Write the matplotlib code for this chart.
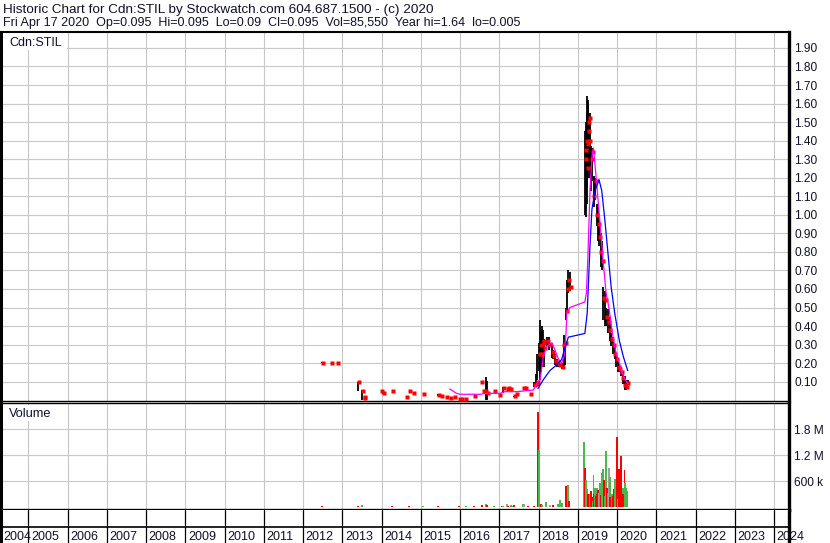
import matplotlib
matplotlib.use("Agg")
import matplotlib.pyplot as plt
from matplotlib.patches import Rectangle

plt.rcParams['font.family'] = ['Liberation Sans', 'DejaVu Sans']

W, H = 830, 543

header1 = "Historic Chart for Cdn:STIL by Stockwatch.com 604.687.1500 - (c) 2020"
header2 = "Fri Apr 17 2020  Op=0.095  Hi=0.095  Lo=0.09  Cl=0.095  Vol=85,550  Year hi=1.64  lo=0.005"
symbol = "Cdn:STIL"
vol_title = "Volume"

year_labels = [str(y) for y in range(2004, 2025)]
price_ticks = [0.10, 0.20, 0.30, 0.40, 0.50, 0.60, 0.70, 0.80, 0.90, 1.00,
               1.10, 1.20, 1.30, 1.40, 1.50, 1.60, 1.70, 1.80, 1.90]
price_tick_labels = ["0.10", "0.20", "0.30", "0.40", "0.50", "0.60", "0.70", "0.80", "0.90", "1.00",
                     "1.10", "1.20", "1.30", "1.40", "1.50", "1.60", "1.70", "1.80", "1.90"]
vol_ticks = [600000, 1200000, 1800000]
vol_tick_labels = ["600 k", "1.2 M", "1.8 M"]

# daily bars (decimal year, high, low, close)
bar_dates = [2012.48, 2012.73, 2012.86, 2013.40, 2013.50, 2013.55, 2013.57, 2013.98, 2014.04, 2014.26,
             2014.64, 2014.70, 2014.80, 2015.05, 2015.44, 2015.53, 2015.64, 2015.74, 2015.85, 2015.97,
             2016.04, 2016.14, 2016.36, 2016.55, 2016.58, 2016.65, 2016.69, 2016.87, 2016.99, 2017.10,
             2017.19, 2017.23, 2017.29, 2017.37, 2017.44, 2017.62, 2017.66, 2017.78, 2017.89, 2017.93,
             2017.97, 2018.01, 2018.04, 2018.06, 2018.08, 2018.11, 2018.13, 2018.15, 2018.22, 2018.26,
             2018.34, 2018.38, 2018.43, 2018.47, 2018.53, 2018.60, 2018.64, 2018.68, 2018.71, 2018.73,
             2018.76, 2018.80, 2019.19, 2019.20, 2019.215, 2019.23, 2019.24, 2019.255, 2019.27, 2019.285,
             2019.30, 2019.33, 2019.36, 2019.40, 2019.44, 2019.48, 2019.52, 2019.55, 2019.58, 2019.61,
             2019.65, 2019.69, 2019.73, 2019.77, 2019.81, 2019.85, 2019.90, 2019.94, 2019.98, 2020.02,
             2020.06, 2020.10, 2020.14, 2020.19, 2020.23, 2020.27]
bar_highs = [0.205, 0.20, 0.20, 0.10, 0.055, 0.017, 0.01, 0.05, 0.045, 0.05,
             0.017, 0.05, 0.04, 0.035, 0.035, 0.02, 0.017, 0.01, 0.015, 0.007,
             0.007, 0.007, 0.02, 0.10, 0.05, 0.124, 0.105, 0.05, 0.03, 0.07,
             0.06, 0.065, 0.06, 0.025, 0.04, 0.065, 0.065, 0.033, 0.10, 0.14,
             0.25, 0.31, 0.43, 0.38, 0.40, 0.38, 0.33, 0.31, 0.34, 0.34,
             0.31, 0.27, 0.25, 0.22, 0.20, 0.20, 0.35, 0.32, 0.50, 0.65,
             0.70, 0.69, 1.45, 1.40, 1.50, 1.55, 1.64, 1.62, 1.59, 1.50,
             1.55, 1.37, 1.36, 1.21, 1.20, 1.06, 1.04, 0.97, 0.90, 0.86,
             0.61, 0.59, 0.50, 0.49, 0.45, 0.36, 0.34, 0.29, 0.25, 0.22,
             0.20, 0.18, 0.16, 0.13, 0.11, 0.11]
bar_lows = [0.20, 0.20, 0.20, 0.05, 0.0, 0.017, 0.01, 0.05, 0.035, 0.05,
            0.017, 0.05, 0.04, 0.035, 0.025, 0.02, 0.017, 0.01, 0.015, 0.007,
            0.007, 0.007, 0.02, 0.10, 0.05, 0.0, 0.0, 0.05, 0.03, 0.04,
            0.06, 0.065, 0.06, 0.015, 0.03, 0.065, 0.065, 0.033, 0.07, 0.09,
            0.11, 0.16, 0.11, 0.15, 0.18, 0.20, 0.22, 0.18, 0.29, 0.27,
            0.23, 0.22, 0.19, 0.18, 0.18, 0.17, 0.18, 0.19, 0.43, 0.47,
            0.58, 0.59, 1.00, 0.99, 1.10, 1.06, 1.15, 1.20, 1.26, 1.25,
            1.20, 1.13, 1.18, 1.04, 1.08, 0.94, 0.86, 0.83, 0.72, 0.70,
            0.43, 0.40, 0.40, 0.36, 0.32, 0.29, 0.25, 0.22, 0.18, 0.15,
            0.15, 0.13, 0.09, 0.055, 0.055, 0.08]
bar_closes = [0.20, 0.20, 0.20, 0.10, 0.05, 0.017, 0.01, 0.05, 0.04, 0.05,
              0.017, 0.05, 0.04, 0.035, 0.03, 0.02, 0.017, 0.01, 0.015, 0.007,
              0.007, 0.007, 0.02, 0.10, 0.05, 0.05, 0.04, 0.05, 0.03, 0.065,
              0.06, 0.065, 0.06, 0.02, 0.035, 0.065, 0.065, 0.033, 0.08, 0.09,
              0.10, 0.25, 0.30, 0.25, 0.25, 0.32, 0.31, 0.28, 0.32, 0.30,
              0.26, 0.24, 0.21, 0.20, 0.19, 0.18, 0.30, 0.31, 0.48, 0.60,
              0.65, 0.61, 1.35, 1.30, 1.40, 1.38, 1.25, 1.45, 1.50, 1.40,
              1.52, 1.30, 1.34, 1.10, 1.18, 1.00, 0.95, 0.88, 0.80, 0.75,
              0.55, 0.54, 0.45, 0.42, 0.38, 0.33, 0.30, 0.25, 0.22, 0.18,
              0.17, 0.15, 0.12, 0.08, 0.07, 0.095]

# moving averages
ma_short_dates = [2015.74, 2015.91, 2016.00, 2016.51, 2016.68, 2017.02, 2017.14, 2017.44, 2017.87, 2017.91,
                  2017.99, 2018.04, 2018.12, 2018.21, 2018.34, 2018.42, 2018.51, 2018.59, 2018.65, 2018.70,
                  2018.72, 2018.80, 2019.18, 2019.22, 2019.26, 2019.31, 2019.36, 2019.40, 2019.48, 2019.56,
                  2019.65, 2019.72, 2019.80, 2019.88, 2019.98, 2020.06, 2020.16, 2020.27]
ma_short_values = [0.06, 0.037, 0.032, 0.032, 0.037, 0.037, 0.046, 0.046, 0.055, 0.073,
                   0.10, 0.11, 0.235, 0.29, 0.31, 0.27, 0.22, 0.20, 0.235, 0.36,
                   0.47, 0.50, 0.53, 0.58, 0.79, 1.13, 1.31, 1.36, 1.17, 0.97,
                   0.74, 0.58, 0.49, 0.36, 0.25, 0.20, 0.13, 0.09]
ma_long_dates = [2017.99, 2018.12, 2018.29, 2018.46, 2018.59, 2018.68, 2018.76, 2019.18, 2019.24, 2019.31,
                 2019.36, 2019.44, 2019.54, 2019.61, 2019.69, 2019.77, 2019.85, 2019.94, 2020.06, 2020.16,
                 2020.27]
ma_long_values = [0.064, 0.11, 0.16, 0.19, 0.22, 0.29, 0.34, 0.36, 0.47, 0.83,
                  1.03, 1.13, 1.19, 1.13, 0.97, 0.79, 0.61, 0.47, 0.32, 0.235,
                  0.16]

# volume (decimal year, shares, direction u/d/f)
vol_dates = [2012.48, 2013.40, 2013.50, 2014.26, 2014.70, 2015.05, 2015.44, 2015.97, 2016.14, 2016.36,
             2016.55, 2016.65, 2016.69, 2016.87, 2017.06, 2017.10, 2017.19, 2017.23, 2017.29, 2017.33,
             2017.37, 2017.61, 2017.63, 2017.72, 2017.89, 2017.99, 2018.02, 2018.06, 2018.10, 2018.19,
             2018.29, 2018.36, 2018.50, 2018.55, 2018.59, 2018.69, 2018.74, 2018.77, 2019.16, 2019.18,
             2019.21, 2019.24, 2019.27, 2019.30, 2019.32, 2019.34, 2019.36, 2019.38, 2019.40, 2019.42,
             2019.44, 2019.46, 2019.48, 2019.49, 2019.51, 2019.52, 2019.54, 2019.56, 2019.58, 2019.61,
             2019.63, 2019.65, 2019.67, 2019.69, 2019.72, 2019.75, 2019.77, 2019.80, 2019.81, 2019.83,
             2019.85, 2019.87, 2019.89, 2019.91, 2019.94, 2019.96, 2020.00, 2020.02, 2020.05, 2020.08,
             2020.11, 2020.14, 2020.16, 2020.19, 2020.21, 2020.23, 2020.26]
vol_values = [20000, 30000, 50000, 20000, 20000, 20000, 30000, 20000, 20000, 30000,
              40000, 80000, 50000, 30000, 20000, 30000, 70000, 30000, 40000, 30000,
              50000, 70000, 70000, 20000, 20000, 2190000, 1320000, 80000, 40000, 120000,
              50000, 50000, 70000, 160000, 90000, 480000, 510000, 130000, 1500000, 890000,
              620000, 420000, 290000, 280000, 310000, 380000, 230000, 150000, 740000, 300000,
              450000, 250000, 450000, 300000, 200000, 390000, 330000, 550000, 280000, 790000,
              450000, 880000, 620000, 250000, 1290000, 430000, 320000, 890000, 700000, 220000,
              160000, 300000, 250000, 410000, 390000, 650000, 1620000, 180000, 880000, 790000,
              1180000, 450000, 300000, 850000, 550000, 450000, 380000]
vol_dirs = ["d", "d", "u", "d", "d", "u", "d", "d", "u", "d",
            "d", "u", "d", "u", "d", "u", "f", "d", "u", "u",
            "d", "u", "f", "d", "d", "d", "u", "d", "u", "u",
            "f", "d", "u", "u", "u", "d", "u", "d", "u", "d",
            "u", "u", "d", "d", "u", "d", "d", "u", "u", "d",
            "u", "d", "u", "d", "u", "d", "f", "u", "d", "u",
            "d", "u", "d", "u", "u", "d", "u", "f", "u", "d",
            "d", "u", "d", "d", "u", "u", "d", "f", "d", "d",
            "d", "u", "d", "d", "u", "u", "u"]
dir_colors = {"u": "#4cb84c", "d": "#ff0000", "f": "#a0a0a0"}


def px_rect(left, top, width, height):
    return [left / W, 1 - (top + height) / H, width / W, height / H]


X0_PX, X_PER_YEAR = 28.3, 39.25


def px_to_year(x):
    return 2005 + (x - X0_PX) / X_PER_YEAR


xmin, xmax = px_to_year(1), px_to_year(789)

fig = plt.figure(figsize=(W / 100, H / 100), dpi=100)
fig.patch.set_facecolor("white")

grid_c = "#c8c8c8"
text_c = "#10102a"
boundaries = [int(y) for y in year_labels[1:]]

# ---- price panel
ax_p = fig.add_axes(px_rect(1, 32, 788, 369))
ax_p.set_xlim(xmin, xmax)
ax_p.set_ylim((400.2 - 401) / 185.4, (400.2 - 32) / 185.4)
for yv in price_ticks:
    ax_p.axhline(yv, color=grid_c, lw=0.8, zorder=0)
for b in boundaries:
    ax_p.axvline(b, color=grid_c, lw=0.8, zorder=0)
ax_p.vlines(bar_dates, bar_lows, bar_highs, color="black", lw=1.3, zorder=3)
ax_p.plot([d + 0.02 for d in bar_dates], bar_closes, "s", ms=2.2, color="#ff0000", mec="none", zorder=4)
ax_p.plot(ma_short_dates, ma_short_values, color="#ff00ff", lw=0.9, zorder=5)
ax_p.plot(ma_long_dates, ma_long_values, color="#0000ff", lw=0.9, zorder=5)
ax_p.set_xticks([])
ax_p.yaxis.tick_right()
ax_p.set_yticks(price_ticks)
ax_p.set_yticklabels(price_tick_labels, fontsize=8.6, color=text_c)
ax_p.tick_params(axis="y", length=0, pad=3.6)
for side, lw in (("left", 2.2), ("top", 1.5), ("bottom", 1.0), ("right", 2.4)):
    ax_p.spines[side].set_linewidth(lw)
    ax_p.spines[side].set_color("black")

# ---- volume panel
ax_v = fig.add_axes(px_rect(1, 403, 788, 107))
ax_v.set_xlim(xmin, xmax)
per_px = 600000 / 26.0
ax_v.set_ylim(-3 * per_px, 104 * per_px)
for yv in vol_ticks:
    ax_v.axhline(yv, color=grid_c, lw=0.8, zorder=0)
for b in boundaries:
    ax_v.axvline(b, color=grid_c, lw=0.8, zorder=0)
ax_v.bar(vol_dates, vol_values, width=0.05, bottom=0,
         color=[dir_colors[d] for d in vol_dirs], linewidth=0, zorder=3)
ax_v.set_xticks([])
ax_v.yaxis.tick_right()
ax_v.set_yticks(vol_ticks)
ax_v.set_yticklabels(vol_tick_labels, fontsize=8.6, color=text_c)
ax_v.tick_params(axis="y", length=0, pad=3.6)
for side, lw in (("left", 2.2), ("top", 1.0), ("bottom", 2.4), ("right", 2.4)):
    ax_v.spines[side].set_linewidth(lw)
    ax_v.spines[side].set_color("black")

# ---- year label strip
ax_x = fig.add_axes(px_rect(1, 510, 788, 33))
ax_x.set_xlim(xmin, xmax)
ax_x.set_ylim(0, 33)
for b in boundaries:
    ax_x.axvline(b, color="black", lw=0.9)
ax_x.axhline(33 - 17, color="black", lw=1.2)
for lab in year_labels:
    xpos = max(int(lab), xmin) + 0.07
    ax_x.text(xpos, 3.5, lab, fontsize=9, color=text_c, ha="left", va="baseline", clip_on=False)
ax_x.set_xticks([])
ax_x.set_yticks([])
for side in ("top", "bottom"):
    ax_x.spines[side].set_visible(False)
ax_x.spines["left"].set_linewidth(2.2)
ax_x.spines["right"].set_linewidth(2.4)

# ---- header and panel titles
fig.text(3 / W, 1 - 13 / H, header1, fontsize=9.7, color=text_c, ha="left", va="baseline")
fig.text(3 / W, 1 - 26 / H, header2, fontsize=9.0, color=text_c, ha="left", va="baseline")
fig.add_artist(Rectangle((3 / W, 1 - 50 / H), 64 / W, 17 / H, transform=fig.transFigure,
                         facecolor="white", edgecolor="none", zorder=2))
fig.text(9 / W, 1 - 46 / H, symbol, fontsize=9.0, color=text_c, ha="left", va="baseline", zorder=3)
fig.add_artist(Rectangle((3 / W, 1 - 421 / H), 56 / W, 16 / H, transform=fig.transFigure,
                         facecolor="white", edgecolor="none", zorder=2))
fig.text(9 / W, 1 - 417 / H, vol_title, fontsize=9.2, color=text_c, ha="left", va="baseline", zorder=3)

fig.savefig("out.png", dpi=100, facecolor="white")
